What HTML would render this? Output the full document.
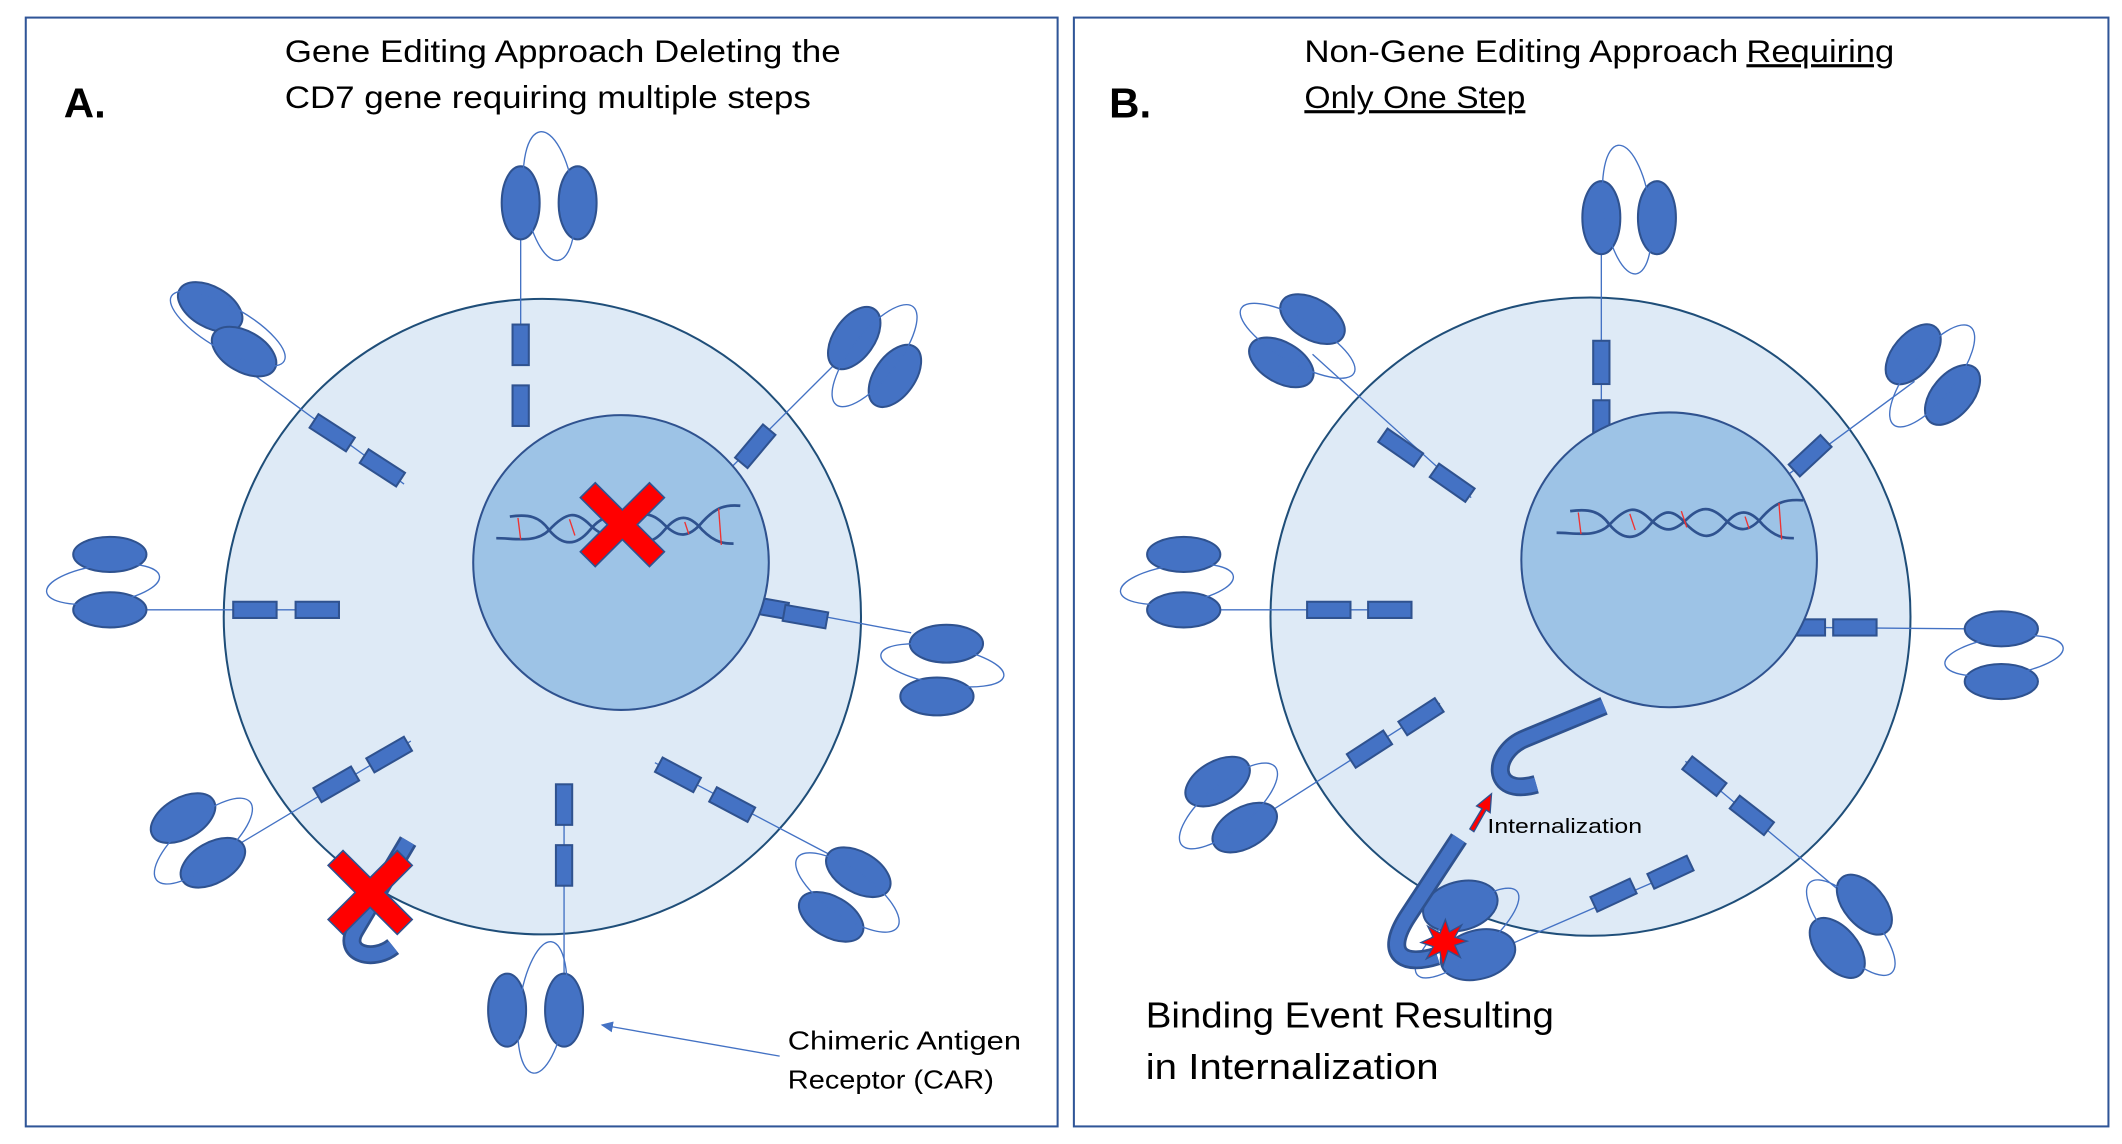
<!DOCTYPE html>
<html><head><meta charset="utf-8"><style>html,body{margin:0;padding:0;background:#fff}svg{display:block}</style></head><body>
<svg width="2122" height="1144" viewBox="0 0 1565 846" preserveAspectRatio="none" xmlns="http://www.w3.org/2000/svg" font-family="Liberation Sans, sans-serif">
<defs>
<marker id="ah" markerWidth="10" markerHeight="10" refX="8" refY="5" orient="auto" markerUnits="userSpaceOnUse"><path d="M0,1 L9,5 L0,9 z" fill="#4472c4"/></marker>
</defs>
<rect x="0" y="0" width="1565" height="846" fill="#fff"/>
<rect x="19" y="13" width="761" height="820" fill="none" stroke="#2f5597" stroke-width="1.5"/>
<rect x="792" y="13" width="763" height="820" fill="none" stroke="#2f5597" stroke-width="1.5"/>

<g fill="none" stroke="#4472c4" stroke-width="1">
<circle cx="400" cy="456" r="235" fill="#deeaf6" stroke="#1f4e79" stroke-width="1.5"/>
<line x1="384" y1="240" x2="384" y2="177"/>
<line x1="180" y1="272" x2="298" y2="358"/>
<line x1="108" y1="451" x2="250" y2="451"/>
<line x1="170" y1="628" x2="303" y2="548"/>
<line x1="416" y1="580" x2="416" y2="720"/>
<line x1="483" y1="564" x2="612" y2="632"/>
<line x1="560" y1="447" x2="672" y2="468"/>
<line x1="540" y1="345" x2="620" y2="265"/>
</g>
<g fill="#4472c4" stroke="#2f528f" stroke-width="1.5">
<rect x="-15" y="-6" width="30" height="12" transform="translate(384,255) rotate(90)"/>
<rect x="-15" y="-6" width="30" height="12" transform="translate(384,300) rotate(90)"/>
<rect x="-16" y="-6" width="32" height="12" transform="translate(245,320) rotate(33)"/>
<rect x="-16" y="-6" width="32" height="12" transform="translate(282,346) rotate(33)"/>
<rect x="-16" y="-6" width="32" height="12" transform="translate(188,451)"/>
<rect x="-16" y="-6" width="32" height="12" transform="translate(234,451)"/>
<rect x="-16" y="-6" width="32" height="12" transform="translate(248,580) rotate(-30)"/>
<rect x="-16" y="-6" width="32" height="12" transform="translate(287,558) rotate(-30)"/>
<rect x="-15" y="-6" width="30" height="12" transform="translate(416,595) rotate(90)"/>
<rect x="-15" y="-6" width="30" height="12" transform="translate(416,640) rotate(90)"/>
<rect x="-16" y="-6" width="32" height="12" transform="translate(500,573) rotate(28)"/>
<rect x="-16" y="-6" width="32" height="12" transform="translate(540,595) rotate(28)"/>
<rect x="-16" y="-6" width="32" height="12" transform="translate(565,449) rotate(10)"/>
<rect x="-16" y="-6" width="32" height="12" transform="translate(594,456) rotate(10)"/>
<rect x="-16" y="-6" width="32" height="12" transform="translate(557,330) rotate(-50)"/>
</g>
<circle cx="458" cy="416" r="109" fill="#9dc3e6" stroke="#2f528f" stroke-width="1.5"/>
<g fill="none" stroke="#2f528f" stroke-width="2">
<path d="M366,398 C380,398 395,402 405,392 C418,378 425,378 435,388 C445,398 452,398 462,388 C472,378 480,378 490,388 C500,398 508,398 518,386 C528,375 535,373 546,374"/>
<path d="M376,382 C390,380 398,382 405,392 C415,404 425,404 435,392 C445,380 452,380 462,392 C472,402 480,404 490,392 C500,380 508,380 518,392 C528,402 535,402 541,402"/>
</g>
<g stroke="#e33" stroke-width="1"><line x1="382" y1="383" x2="384" y2="399"/><line x1="420" y1="384" x2="424" y2="396"/><line x1="505" y1="386" x2="508" y2="395"/><line x1="530" y1="376" x2="532" y2="403"/></g>
<g fill="#4472c4" stroke="#2f528f" stroke-width="1.5">
<ellipse cx="384" cy="150" rx="14" ry="27"/><ellipse cx="426" cy="150" rx="14" ry="27"/>
<ellipse cx="155" cy="227" rx="26" ry="15" transform="rotate(30 155 227)"/><ellipse cx="180" cy="260" rx="26" ry="15" transform="rotate(30 180 260)"/>
<ellipse cx="81" cy="410" rx="27" ry="13"/><ellipse cx="81" cy="451" rx="27" ry="13"/>
<ellipse cx="135" cy="605" rx="26" ry="15" transform="rotate(-30 135 605)"/><ellipse cx="157" cy="638" rx="26" ry="15" transform="rotate(-30 157 638)"/>
<ellipse cx="374" cy="747" rx="14" ry="27"/><ellipse cx="416" cy="747" rx="14" ry="27"/>
<ellipse cx="633" cy="645" rx="26" ry="15" transform="rotate(30 633 645)"/><ellipse cx="613" cy="678" rx="26" ry="15" transform="rotate(30 613 678)"/>
<ellipse cx="698" cy="476" rx="27" ry="14"/><ellipse cx="691" cy="515" rx="27" ry="14"/>
<ellipse cx="630" cy="250" rx="26" ry="15" transform="rotate(-55 630 250)"/><ellipse cx="660" cy="278" rx="26" ry="15" transform="rotate(-55 660 278)"/>
</g>
<g fill="none" stroke="#4472c4" stroke-width="1">
<ellipse cx="405" cy="145" rx="18" ry="48" transform="rotate(-8 405 145)"/>
<ellipse cx="168" cy="243" rx="48" ry="16" transform="rotate(30 168 243)"/>
<ellipse cx="76" cy="432" rx="42" ry="14" transform="rotate(-8 76 432)"/>
<ellipse cx="150" cy="622" rx="45" ry="17" transform="rotate(-40 150 622)"/>
<ellipse cx="400" cy="745" rx="17" ry="49" transform="rotate(8 400 745)"/>
<ellipse cx="625" cy="660" rx="45" ry="17" transform="rotate(35 625 660)"/>
<ellipse cx="695" cy="492" rx="46" ry="14" transform="rotate(10 695 492)"/>
<ellipse cx="645" cy="263" rx="46" ry="17" transform="rotate(-52 645 263)"/>
</g>
<path d="M301,622 L262,688 C252,705 275,712 290,700" fill="none" stroke="#2f528f" stroke-width="14"/>
<path d="M301,622 L262,688 C252,705 275,712 290,700" fill="none" stroke="#4472c4" stroke-width="10"/>
<path d="M-20,-31 L0,-11 L20,-31 L31,-20 L11,0 L31,20 L20,31 L0,11 L-20,31 L-31,20 L-11,0 L-31,-20 Z" fill="#ff0000" stroke="#2f528f" stroke-width="1.2" transform="translate(459,388)"/>
<path d="M-20,-31 L0,-11 L20,-31 L31,-20 L11,0 L31,20 L20,31 L0,11 L-20,31 L-31,20 L-11,0 L-31,-20 Z" fill="#ff0000" stroke="#2f528f" stroke-width="1.2" transform="translate(273,660)"/>
<line x1="575" y1="781" x2="444" y2="758" stroke="#4472c4" stroke-width="1" marker-end="url(#ah)"/>

<g fill="none" stroke="#4472c4" stroke-width="1">
<circle cx="1173" cy="456" r="236" fill="#deeaf6" stroke="#1f4e79" stroke-width="1.5"/>
<line x1="1181" y1="185" x2="1181" y2="320"/>
<line x1="968" y1="262" x2="1085" y2="368"/>
<line x1="900" y1="451" x2="1040" y2="451"/>
<line x1="1333" y1="464" x2="1450" y2="465"/>
<line x1="1320" y1="350" x2="1412" y2="282"/>
<line x1="940" y1="598" x2="1062" y2="520"/>
<line x1="1243" y1="563" x2="1370" y2="670"/>
<line x1="1110" y1="700" x2="1248" y2="640"/>
</g>
<g fill="#4472c4" stroke="#2f528f" stroke-width="1.5">
<rect x="-16" y="-6" width="32" height="12" transform="translate(1181,268) rotate(90)"/>
<rect x="-15" y="-6" width="30" height="12" transform="translate(1181,311) rotate(90)"/>
<rect x="-16" y="-6" width="32" height="12" transform="translate(1033,331) rotate(35)"/>
<rect x="-16" y="-6" width="32" height="12" transform="translate(1071,357) rotate(35)"/>
<rect x="-16" y="-6" width="32" height="12" transform="translate(980,451)"/>
<rect x="-16" y="-6" width="32" height="12" transform="translate(1025,451)"/>
<rect x="-16" y="-6" width="32" height="12" transform="translate(1330,464)"/>
<rect x="-16" y="-6" width="32" height="12" transform="translate(1368,464)"/>
<rect x="-16" y="-6" width="32" height="12" transform="translate(1335,337) rotate(-43)"/>
<rect x="-16" y="-6" width="32" height="12" transform="translate(1010,554) rotate(-33)"/>
<rect x="-16" y="-6" width="32" height="12" transform="translate(1048,530) rotate(-33)"/>
<rect x="-16" y="-6" width="32" height="12" transform="translate(1257,574) rotate(38)"/>
<rect x="-16" y="-6" width="32" height="12" transform="translate(1292,603) rotate(38)"/>
<rect x="-16" y="-6" width="32" height="12" transform="translate(1190,662) rotate(-25)"/>
<rect x="-16" y="-6" width="32" height="12" transform="translate(1232,645) rotate(-25)"/>
</g>
<circle cx="1231" cy="414" r="109" fill="#9dc3e6" stroke="#2f528f" stroke-width="1.5"/>
<g fill="none" stroke="#2f528f" stroke-width="2">
<path d="M1148,394 C1162,394 1177,398 1187,388 C1200,374 1207,374 1217,384 C1227,394 1234,394 1244,384 C1254,374 1262,374 1272,384 C1282,394 1290,394 1300,382 C1310,371 1317,369 1330,370"/>
<path d="M1158,378 C1172,376 1180,378 1187,388 C1197,400 1207,400 1217,388 C1227,376 1234,376 1244,388 C1254,398 1262,400 1272,388 C1282,376 1290,376 1300,388 C1310,398 1317,398 1323,398"/>
</g>
<g stroke="#e33" stroke-width="1"><line x1="1164" y1="379" x2="1166" y2="395"/><line x1="1202" y1="380" x2="1206" y2="392"/><line x1="1240" y1="378" x2="1244" y2="390"/><line x1="1287" y1="382" x2="1290" y2="391"/><line x1="1312" y1="372" x2="1314" y2="399"/></g>
<g fill="#4472c4" stroke="#2f528f" stroke-width="1.5">
<ellipse cx="1181" cy="161" rx="14" ry="27"/><ellipse cx="1222" cy="161" rx="14" ry="27"/>
<ellipse cx="968" cy="236" rx="26" ry="15" transform="rotate(30 968 236)"/><ellipse cx="945" cy="268" rx="26" ry="15" transform="rotate(30 945 268)"/>
<ellipse cx="873" cy="410" rx="27" ry="13"/><ellipse cx="873" cy="451" rx="27" ry="13"/>
<ellipse cx="1476" cy="465" rx="27" ry="13"/><ellipse cx="1476" cy="504" rx="27" ry="13"/>
<ellipse cx="1411" cy="262" rx="26" ry="15" transform="rotate(-50 1411 262)"/><ellipse cx="1440" cy="292" rx="26" ry="15" transform="rotate(-50 1440 292)"/>
<ellipse cx="898" cy="578" rx="26" ry="15" transform="rotate(-30 898 578)"/><ellipse cx="918" cy="612" rx="26" ry="15" transform="rotate(-30 918 612)"/>
<ellipse cx="1375" cy="669" rx="26" ry="15" transform="rotate(50 1375 669)"/><ellipse cx="1355" cy="701" rx="26" ry="15" transform="rotate(50 1355 701)"/>
<ellipse cx="1077" cy="670" rx="28" ry="18" transform="rotate(-15 1077 670)"/><ellipse cx="1090" cy="706" rx="28" ry="18" transform="rotate(-15 1090 706)"/>
</g>
<g fill="none" stroke="#4472c4" stroke-width="1">
<ellipse cx="1200" cy="155" rx="17" ry="48" transform="rotate(-8 1200 155)"/>
<ellipse cx="957" cy="252" rx="48" ry="16" transform="rotate(30 957 252)"/>
<ellipse cx="868" cy="432" rx="42" ry="14" transform="rotate(-8 868 432)"/>
<ellipse cx="1478" cy="485" rx="44" ry="14" transform="rotate(-8 1478 485)"/>
<ellipse cx="1425" cy="278" rx="46" ry="17" transform="rotate(-52 1425 278)"/>
<ellipse cx="906" cy="596" rx="45" ry="17" transform="rotate(-40 906 596)"/>
<ellipse cx="1365" cy="686" rx="45" ry="17" transform="rotate(48 1365 686)"/>
<ellipse cx="1082" cy="690" rx="48" ry="16" transform="rotate(-40 1082 690)"/>
</g>
<g fill="none">
<path d="M1183,522 L1125,546 C1100,556 1098,590 1133,580" stroke="#2f528f" stroke-width="14"/>
<path d="M1183,522 L1125,546 C1100,556 1098,590 1133,580" stroke="#4472c4" stroke-width="10"/>
<path d="M1076,620 L1038,678 C1020,706 1035,715 1060,707" stroke="#2f528f" stroke-width="14"/>
<path d="M1076,620 L1038,678 C1020,706 1035,715 1060,707" stroke="#4472c4" stroke-width="10"/>
</g>
<path d="M1084,613 L1093,598 L1089,596 L1100,587 L1099,601 L1096,599 L1087,615 Z" fill="#ff0000" stroke="#2f528f" stroke-width="1"/>
<path d="M1066,680 L1069,689 L1078,684 L1073,693 L1082,696 L1073,699 L1077,708 L1068,703 L1064,715 L1062,704 L1052,709 L1057,700 L1048,697 L1057,693 L1053,685 L1062,690 Z" fill="#ff0000" stroke="#2f528f" stroke-width="1"/>

<g fill="#000" font-size="23">
<text x="210" y="46" textLength="410" lengthAdjust="spacingAndGlyphs">Gene Editing Approach Deleting the</text>
<text x="210" y="80" textLength="388" lengthAdjust="spacingAndGlyphs">CD7 gene requiring multiple steps</text>
<text x="962" y="46" textLength="320" lengthAdjust="spacingAndGlyphs">Non-Gene Editing Approach</text>
<text x="1288" y="46" textLength="109" lengthAdjust="spacingAndGlyphs" text-decoration="underline">Requiring</text>
<text x="962" y="80" textLength="163" lengthAdjust="spacingAndGlyphs" text-decoration="underline">Only One Step</text>
</g>
<text x="47" y="87" font-size="31" font-weight="bold">A.</text>
<text x="818" y="87" font-size="31" font-weight="bold">B.</text>
<text x="581" y="776" font-size="19" textLength="172" lengthAdjust="spacingAndGlyphs">Chimeric Antigen</text>
<text x="581" y="805" font-size="19" textLength="152" lengthAdjust="spacingAndGlyphs">Receptor (CAR)</text>
<text x="1097" y="616" font-size="15" textLength="114" lengthAdjust="spacingAndGlyphs">Internalization</text>
<text x="845" y="760" font-size="27" textLength="301" lengthAdjust="spacingAndGlyphs">Binding Event Resulting</text>
<text x="845" y="798" font-size="27" textLength="216" lengthAdjust="spacingAndGlyphs">in Internalization</text>
</svg>
</body></html>
